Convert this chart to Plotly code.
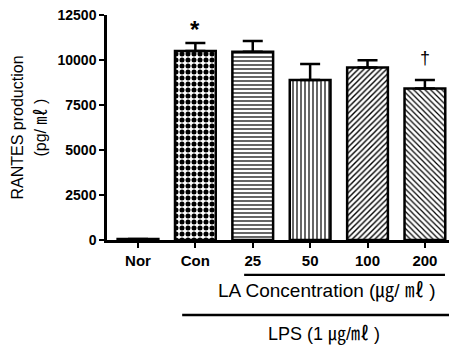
import plotly.graph_objects as go

categories = ["Nor", "Con", "25", "50", "100", "200"]
values = [50, 10500, 10460, 8890, 9590, 8410]
errors = [0, 450, 600, 890, 400, 480]
marks = ["", "*", "", "", "", "†"]
y_ticks = [0, 2500, 5000, 7500, 10000, 12500]
y_tick_text = ["0", "2500", "5000", "7500", "10000", "12500"]

FONT = "Liberation Sans, Arial, Noto Sans CJK KR"

x_idx = list(range(len(categories)))

fig = go.Figure()
fig.add_trace(go.Bar(
    x=x_idx, y=values, width=0.71,
    marker=dict(
        color="white",
        line=dict(color="black", width=2.5),
        pattern=dict(
            shape=["", ".", "-", "|", "/", "\\"],
            size=[6, 6, 4, 4, 4, 4],
            solidity=[0.1, 0.55, 0.3, 0.3, 0.35, 0.3],
            fgcolor="black", bgcolor="white", fillmode="replace",
        ),
    ),
    error_y=dict(type="data", symmetric=False, array=errors,
                 arrayminus=[0] * len(errors), color="black",
                 thickness=2.5, width=10),
    hoverinfo="skip",
))

annotations = []
for i, m in enumerate(marks):
    if m:
        annotations.append(dict(
            x=i, y=values[i] + errors[i], xref="x", yref="y",
            text="<b>" + m + "</b>" if m == "*" else m, showarrow=False,
            xanchor="center", yanchor="bottom", yshift=-2 if m == "*" else 10,
            font=dict(family=FONT, size=24 if m == "*" else 18, color="black"),
        ))

# y axis title (two lines)
annotations.append(dict(x=0, y=0.5, xref="paper", yref="paper", xshift=-90,
                        xanchor="center", yanchor="middle",
                        text="RANTES production", textangle=-90, showarrow=False,
                        font=dict(family=FONT, size=16, color="black")))
annotations.append(dict(x=0, y=0.5, xref="paper", yref="paper", xshift=-67,
                        xanchor="center", yanchor="middle",
                        text="(pg/ ㎖ )", textangle=-90, showarrow=False,
                        font=dict(family=FONT, size=16, color="black")))
# group labels
annotations.append(dict(x=3.3, y=-0.227, xref="x", yref="paper",
                        xanchor="center", yanchor="middle",
                        text="LA Concentration (㎍/ ㎖ )", showarrow=False,
                        font=dict(family=FONT, size=19, color="black")))
annotations.append(dict(x=3.25, y=-0.422, xref="x", yref="paper",
                        xanchor="center", yanchor="middle",
                        text="LPS (1 ㎍/㎖ )", showarrow=False,
                        font=dict(family=FONT, size=18, color="black")))

shapes = [
    dict(type="line", xref="x", yref="paper", x0=1.85, x1=5.35, y0=-0.155, y1=-0.155,
         line=dict(color="black", width=2.4)),
    dict(type="line", xref="x", yref="paper", x0=0.77, x1=5.44, y0=-0.333, y1=-0.333,
         line=dict(color="black", width=2.4)),
]

fig.update_layout(
    width=452, height=347,
    margin=dict(l=107, r=3, t=15, b=107),
    paper_bgcolor="white", plot_bgcolor="white",
    showlegend=False,
    annotations=annotations,
    shapes=shapes,
    xaxis=dict(
        range=[-0.54, 5.42], tickmode="array", tickvals=x_idx, ticktext=categories,
        showline=True, linecolor="black", linewidth=2.5,
        ticks="outside", ticklen=5, tickwidth=2, tickcolor="black",
        tickfont=dict(family=FONT, size=15, color="black", weight="bold"),
        showgrid=False, zeroline=False, fixedrange=True,
    ),
    yaxis=dict(
        range=[0, 12500], tickmode="array", tickvals=y_ticks, ticktext=y_tick_text,
        showline=True, linecolor="black", linewidth=2.5,
        ticks="outside", ticklen=5, tickwidth=2, tickcolor="black",
        tickfont=dict(family=FONT, size=14, color="black", weight="bold"),
        showgrid=False, zeroline=False, fixedrange=True,
    ),
)

fig.write_html("out.html", config={"displayModeBar": False})

# remove default page margin so the figure sits at the window origin
with open("out.html", encoding="utf-8") as f:
    html = f.read()
html = html.replace("<body>", '<body style="margin:0;padding:0;overflow:hidden">', 1)
with open("out.html", "w", encoding="utf-8") as f:
    f.write(html)
